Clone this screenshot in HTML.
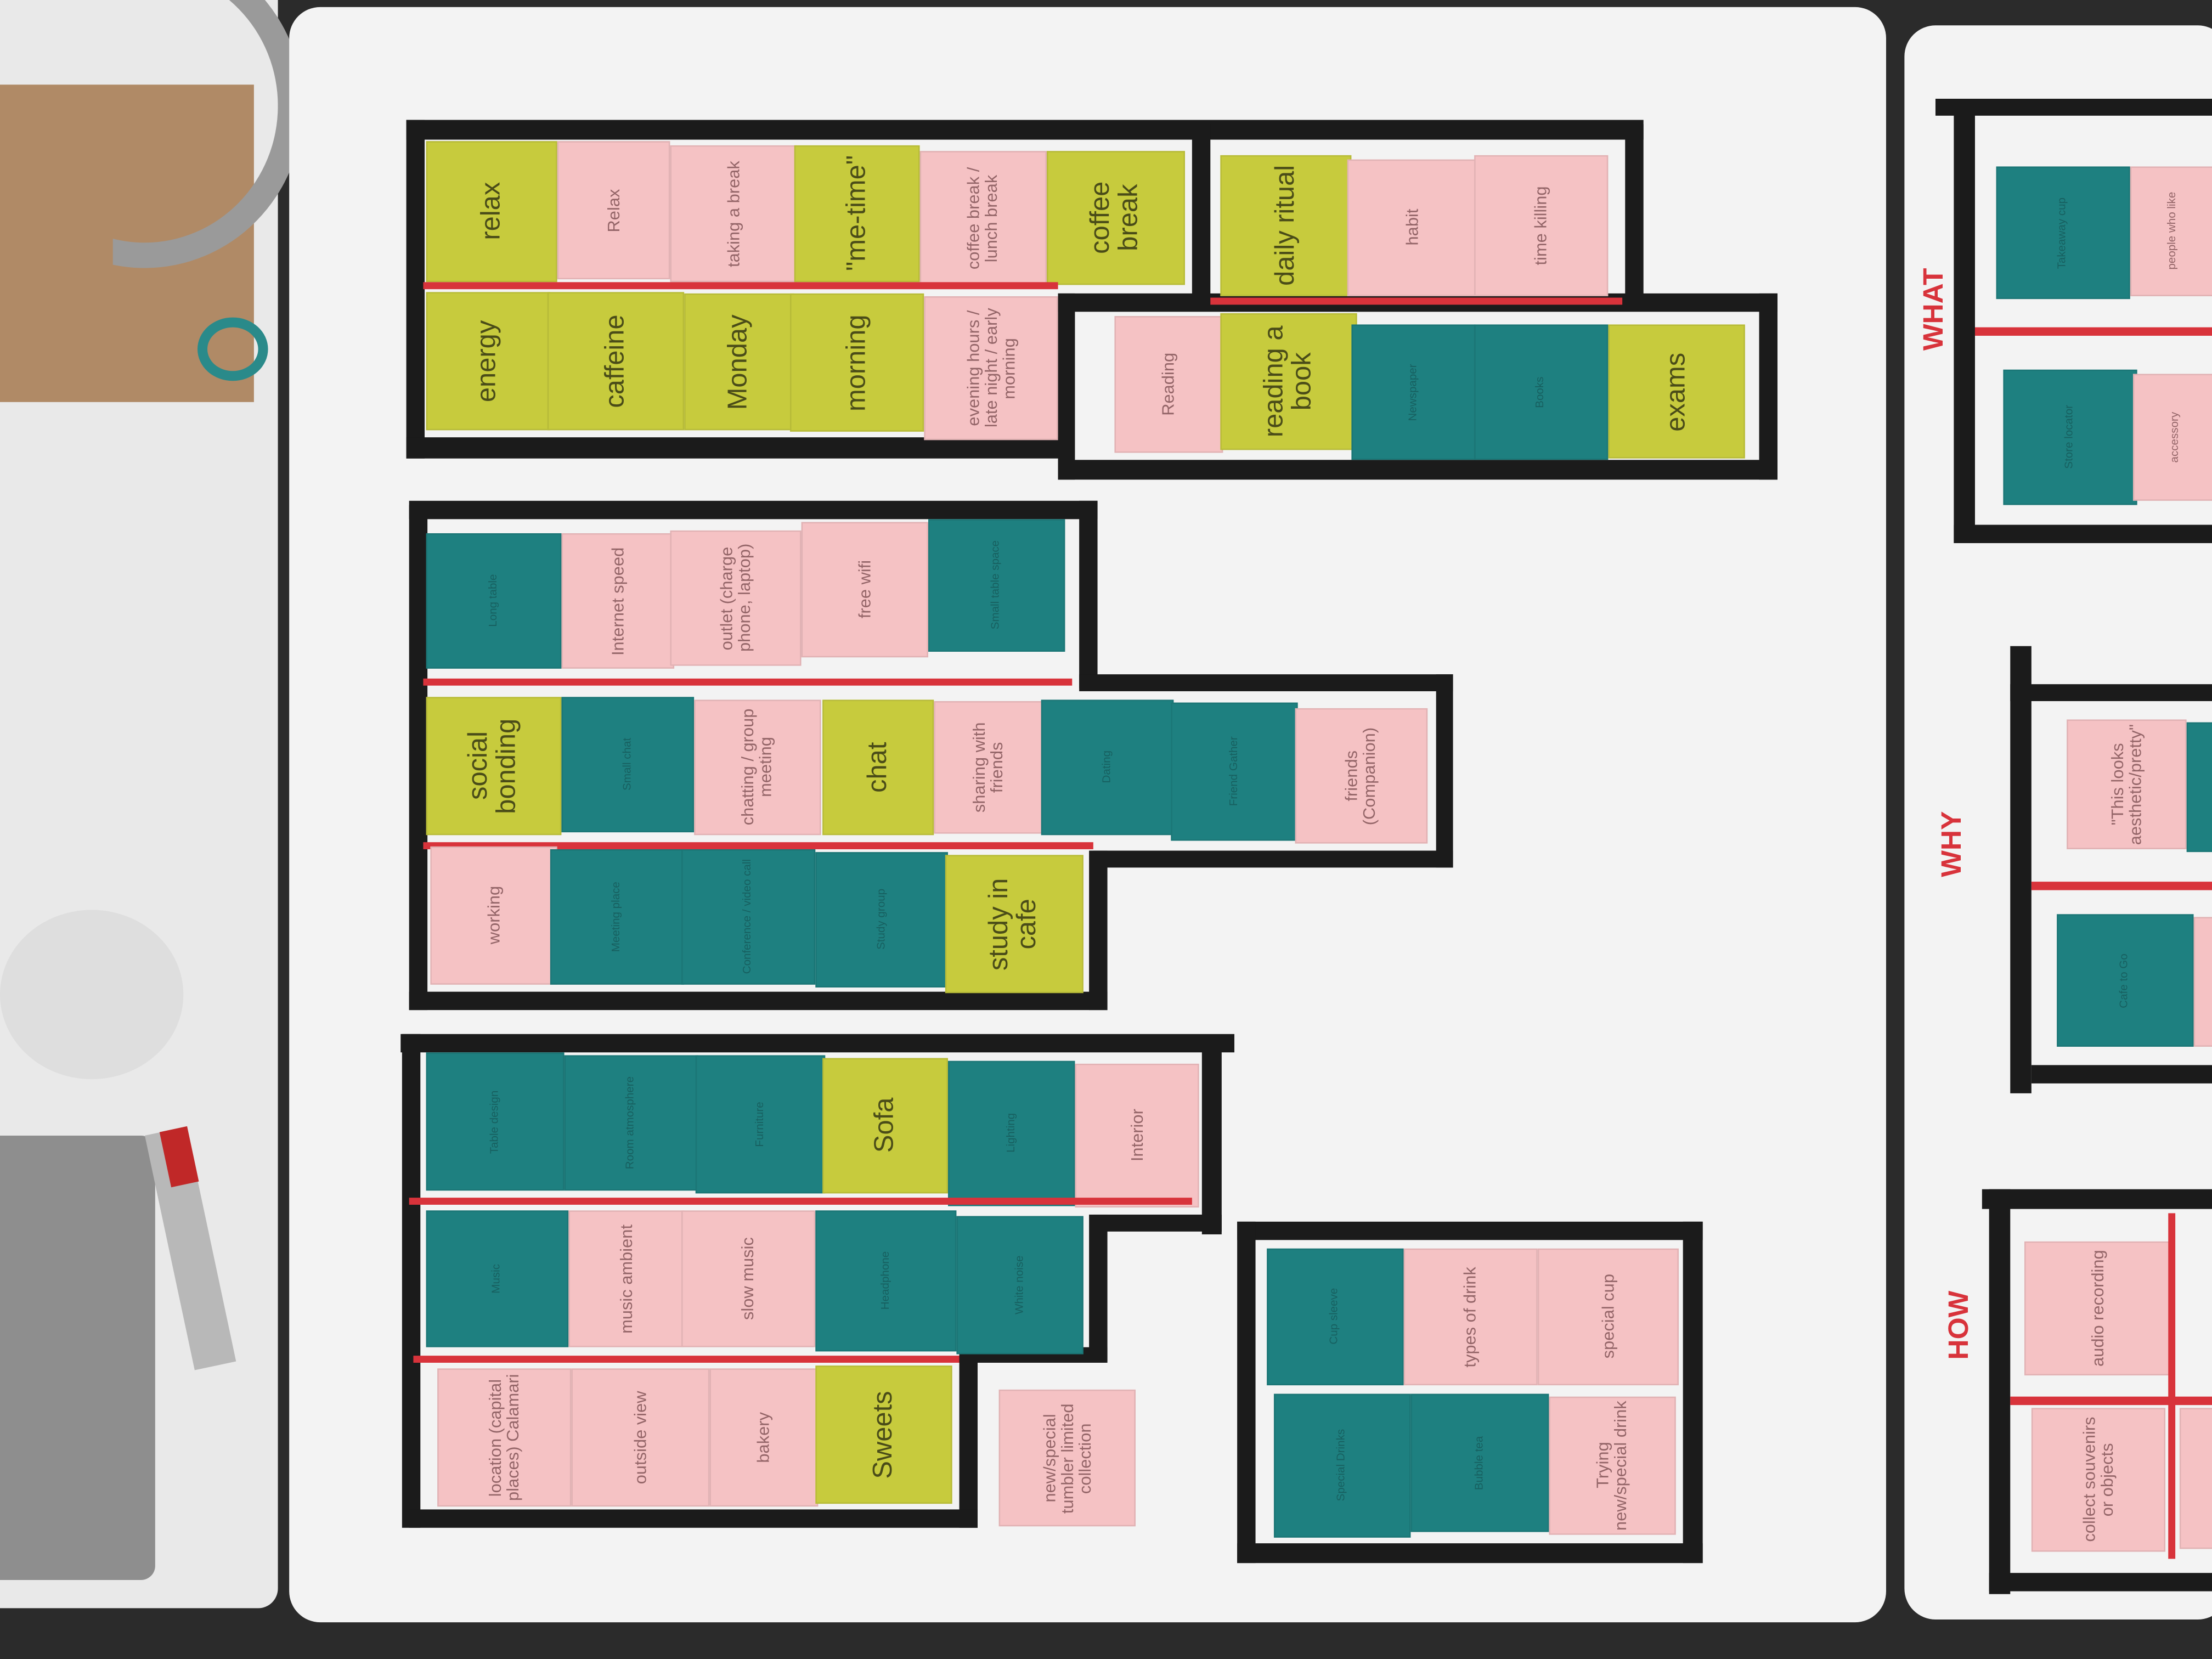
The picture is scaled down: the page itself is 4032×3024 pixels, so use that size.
<!DOCTYPE html>
<html><head><meta charset="utf-8"><style>
html,body{margin:0;padding:0;width:4032px;height:3024px;overflow:hidden;background:#2a2a2a}
#s{position:absolute;left:0;top:0;width:1568px;height:1176px;transform:scale(2.5714);transform-origin:0 0;background:#2b2b2b;font-family:"Liberation Sans",sans-serif}
#s div{position:absolute;box-sizing:border-box}
.b{background:#1b1b1b}
.r{background:#d8333b}
.n{display:flex;align-items:center;justify-content:center;overflow:hidden;box-shadow:inset 0 0 0 1px rgba(0,0,0,0.08)}
.n span{writing-mode:vertical-rl;transform:rotate(180deg);text-align:center;line-height:1.05;color:#444}
.y{background:#c7cb3d}.p{background:#f5c2c4}.t{background:#1e8080}
.y span{font-size:19px;color:#4a4c18}.p span{font-size:12px;color:#946568}.t span{font-size:8px;color:#176060}
.lbl{color:#d8333b;font-weight:bold;font-size:20px;writing-mode:vertical-rl;transform:rotate(180deg)}
</style></head><body><div id="s">
<div style="left:0;top:0;width:197px;height:1140px;background:#e9e9e9;border-radius:0 0 14px 0"></div>
<div style="left:0;top:60px;width:180px;height:225px;background:#b08a66"></div>
<div style="left:140px;top:225px;width:50px;height:45px;border:7px solid #2a8a8a;border-radius:50%"></div>
<div style="left:-10px;top:-40px;width:225px;height:230px;border:18px solid #9a9a9a;border-radius:50%;clip-path:inset(0 0 0 40%)"></div>
<div style="left:0;top:645px;width:130px;height:120px;background:#dedede;border-radius:50%"></div>
<div style="left:0;top:805px;width:110px;height:315px;background:#8e8e8e;border-radius:0 10px 10px 0"></div>
<div style="left:120px;top:800px;width:30px;height:170px;background:#b8b8b8;transform:rotate(-12deg)"></div>
<div style="left:117px;top:800px;width:20px;height:40px;background:#c02828;transform:rotate(-12deg)"></div>
<div style="left:205px;top:5px;width:1132px;height:1145px;background:#f3f3f3;border-radius:22px"></div>
<div style="left:1350px;top:18px;width:230px;height:1130px;background:#f3f3f3;border-radius:22px"></div>

<!-- frame 1 -->
<div class="b" style="left:288px;top:85px;width:877px;height:14px"></div>
<div class="b" style="left:288px;top:85px;width:13px;height:240px"></div>
<div class="b" style="left:288px;top:310px;width:467px;height:15px"></div>
<div class="b" style="left:845px;top:88px;width:13px;height:127px"></div>
<div class="b" style="left:1152px;top:88px;width:13px;height:127px"></div>
<div class="b" style="left:750px;top:208px;width:510px;height:13px"></div>
<div class="b" style="left:1247px;top:208px;width:13px;height:132px"></div>
<div class="b" style="left:750px;top:326px;width:510px;height:14px"></div>
<div class="b" style="left:750px;top:208px;width:12px;height:132px"></div>
<div class="n y" style="left:302px;top:100px;width:93px;height:100px"><span>relax</span></div>
<div class="n p" style="left:395px;top:100px;width:80px;height:98px"><span>Relax</span></div>
<div class="n p" style="left:475px;top:103px;width:90px;height:97px"><span>taking a break</span></div>
<div class="n y" style="left:563px;top:103px;width:89px;height:97px"><span>"me-time"</span></div>
<div class="n p" style="left:652px;top:107px;width:90px;height:95px"><span>coffee break / lunch break</span></div>
<div class="n y" style="left:742px;top:107px;width:98px;height:95px"><span>coffee break</span></div>
<div class="r" style="left:300px;top:200px;width:450px;height:5px"></div>
<div class="n y" style="left:302px;top:207px;width:88px;height:98px"><span>energy</span></div>
<div class="n y" style="left:388px;top:207px;width:97px;height:98px"><span>caffeine</span></div>
<div class="n y" style="left:485px;top:208px;width:78px;height:97px"><span>Monday</span></div>
<div class="n y" style="left:560px;top:208px;width:95px;height:98px"><span>morning</span></div>
<div class="n p" style="left:655px;top:210px;width:95px;height:102px"><span>evening hours / late night / early morning</span></div>
<div class="n y" style="left:865px;top:110px;width:93px;height:100px"><span>daily ritual</span></div>
<div class="n p" style="left:955px;top:113px;width:92px;height:97px"><span>habit</span></div>
<div class="n p" style="left:1045px;top:110px;width:95px;height:100px"><span>time killing</span></div>
<div class="r" style="left:858px;top:211px;width:292px;height:5px"></div>
<div class="n p" style="left:790px;top:224px;width:77px;height:97px"><span>Reading</span></div>
<div class="n y" style="left:865px;top:222px;width:97px;height:97px"><span>reading a book</span></div>
<div class="n t" style="left:958px;top:230px;width:88px;height:96px"><span>Newspaper</span></div>
<div class="n t" style="left:1045px;top:230px;width:95px;height:96px"><span>Books</span></div>
<div class="n y" style="left:1140px;top:230px;width:97px;height:95px"><span>exams</span></div>

<!-- frame 2 -->
<div class="b" style="left:290px;top:355px;width:488px;height:13px"></div>
<div class="b" style="left:290px;top:358px;width:13px;height:358px"></div>
<div class="b" style="left:765px;top:355px;width:13px;height:133px"></div>
<div class="b" style="left:765px;top:478px;width:265px;height:12px"></div>
<div class="b" style="left:1018px;top:478px;width:12px;height:137px"></div>
<div class="b" style="left:775px;top:603px;width:255px;height:12px"></div>
<div class="b" style="left:772px;top:603px;width:13px;height:113px"></div>
<div class="b" style="left:290px;top:703px;width:495px;height:13px"></div>
<div class="n t" style="left:302px;top:378px;width:96px;height:96px"><span>Long table</span></div>
<div class="n p" style="left:398px;top:378px;width:80px;height:96px"><span>Internet speed</span></div>
<div class="n p" style="left:475px;top:376px;width:93px;height:96px"><span>outlet (charge phone, laptop)</span></div>
<div class="n p" style="left:568px;top:370px;width:90px;height:96px"><span>free wifi</span></div>
<div class="n t" style="left:658px;top:368px;width:97px;height:94px"><span>Small table space</span></div>
<div class="r" style="left:300px;top:481px;width:460px;height:5px"></div>
<div class="n y" style="left:302px;top:494px;width:96px;height:98px"><span>social bonding</span></div>
<div class="n t" style="left:398px;top:494px;width:94px;height:96px"><span>Small chat</span></div>
<div class="n p" style="left:492px;top:496px;width:90px;height:96px"><span>chatting / group meeting</span></div>
<div class="n y" style="left:583px;top:496px;width:79px;height:96px"><span>chat</span></div>
<div class="n p" style="left:662px;top:497px;width:78px;height:94px"><span>sharing with friends</span></div>
<div class="n t" style="left:738px;top:496px;width:94px;height:96px"><span>Dating</span></div>
<div class="n t" style="left:830px;top:498px;width:90px;height:98px"><span>Friend Gather</span></div>
<div class="n p" style="left:918px;top:502px;width:94px;height:96px"><span>friends (Companion)</span></div>
<div class="r" style="left:300px;top:597px;width:475px;height:5px"></div>
<div class="n p" style="left:305px;top:600px;width:90px;height:98px"><span>working</span></div>
<div class="n t" style="left:390px;top:602px;width:95px;height:96px"><span>Meeting place</span></div>
<div class="n t" style="left:483px;top:602px;width:95px;height:96px"><span>Conference / video call</span></div>
<div class="n t" style="left:578px;top:604px;width:94px;height:96px"><span>Study group</span></div>
<div class="n y" style="left:670px;top:606px;width:98px;height:98px"><span>study in cafe</span></div>

<!-- frame 3 -->
<div class="b" style="left:284px;top:733px;width:591px;height:13px"></div>
<div class="b" style="left:285px;top:733px;width:13px;height:350px"></div>
<div class="b" style="left:852px;top:735px;width:14px;height:140px"></div>
<div class="b" style="left:775px;top:861px;width:91px;height:12px"></div>
<div class="b" style="left:772px;top:861px;width:13px;height:104px"></div>
<div class="b" style="left:680px;top:955px;width:105px;height:11px"></div>
<div class="b" style="left:680px;top:958px;width:13px;height:125px"></div>
<div class="b" style="left:290px;top:1070px;width:403px;height:13px"></div>
<div class="n t" style="left:302px;top:746px;width:98px;height:98px"><span>Table design</span></div>
<div class="n t" style="left:400px;top:748px;width:95px;height:96px"><span>Room atmosphere</span></div>
<div class="n t" style="left:493px;top:748px;width:92px;height:98px"><span>Furniture</span></div>
<div class="n y" style="left:583px;top:750px;width:89px;height:96px"><span>Sofa</span></div>
<div class="n t" style="left:672px;top:752px;width:90px;height:103px"><span>Lighting</span></div>
<div class="n p" style="left:762px;top:754px;width:88px;height:102px"><span>Interior</span></div>
<div class="r" style="left:290px;top:849px;width:555px;height:5px"></div>
<div class="n t" style="left:302px;top:858px;width:101px;height:97px"><span>Music</span></div>
<div class="n p" style="left:403px;top:858px;width:82px;height:97px"><span>music ambient</span></div>
<div class="n p" style="left:483px;top:858px;width:95px;height:97px"><span>slow music</span></div>
<div class="n t" style="left:578px;top:858px;width:100px;height:100px"><span>Headphone</span></div>
<div class="n t" style="left:678px;top:862px;width:90px;height:98px"><span>White noise</span></div>
<div class="r" style="left:293px;top:961px;width:387px;height:5px"></div>
<div class="n p" style="left:310px;top:970px;width:95px;height:98px"><span>location (capital places) Calamari</span></div>
<div class="n p" style="left:405px;top:970px;width:98px;height:98px"><span>outside view</span></div>
<div class="n p" style="left:503px;top:970px;width:77px;height:98px"><span>bakery</span></div>
<div class="n y" style="left:578px;top:968px;width:97px;height:98px"><span>Sweets</span></div>
<div class="n p" style="left:708px;top:985px;width:97px;height:97px"><span>new/special tumbler limited collection</span></div>

<!-- frame 4 -->
<div class="b" style="left:877px;top:866px;width:330px;height:13px"></div>
<div class="b" style="left:877px;top:866px;width:13px;height:242px"></div>
<div class="b" style="left:1193px;top:866px;width:14px;height:242px"></div>
<div class="b" style="left:877px;top:1094px;width:330px;height:14px"></div>
<div class="n t" style="left:898px;top:885px;width:97px;height:97px"><span>Cup sleeve</span></div>
<div class="n p" style="left:995px;top:885px;width:95px;height:97px"><span>types of drink</span></div>
<div class="n p" style="left:1090px;top:885px;width:100px;height:97px"><span>special cup</span></div>
<div class="n t" style="left:903px;top:988px;width:97px;height:102px"><span>Special Drinks</span></div>
<div class="n t" style="left:1000px;top:988px;width:98px;height:98px"><span>Bubble tea</span></div>
<div class="n p" style="left:1098px;top:990px;width:90px;height:98px"><span>Trying new/special drink</span></div>

<!-- right board -->
<div class="lbl" style="left:1360px;top:190px">WHAT</div>
<div class="b" style="left:1372px;top:70px;width:200px;height:12px"></div>
<div class="b" style="left:1385px;top:70px;width:15px;height:315px"></div>
<div class="b" style="left:1385px;top:372px;width:190px;height:13px"></div>
<div class="n t" style="left:1415px;top:118px;width:95px;height:94px"><span>Takeaway cup</span></div>
<div class="n p" style="left:1510px;top:118px;width:60px;height:92px"><span style="font-size:8px">people who like</span></div>
<div class="r" style="left:1400px;top:232px;width:170px;height:6px"></div>
<div class="n t" style="left:1420px;top:262px;width:95px;height:96px"><span>Store locator</span></div>
<div class="n p" style="left:1512px;top:265px;width:60px;height:90px"><span style="font-size:8px">accessory</span></div>
<div class="lbl" style="left:1373px;top:575px">WHY</div>
<div class="b" style="left:1425px;top:458px;width:15px;height:317px"></div>
<div class="b" style="left:1425px;top:485px;width:150px;height:12px"></div>
<div class="b" style="left:1440px;top:755px;width:135px;height:13px"></div>
<div class="n p" style="left:1465px;top:510px;width:85px;height:92px"><span>"This looks aesthetic/pretty"</span></div>
<div class="n t" style="left:1550px;top:512px;width:22px;height:92px"></div>
<div class="r" style="left:1440px;top:625px;width:135px;height:6px"></div>
<div class="n t" style="left:1458px;top:648px;width:97px;height:94px"><span>Cafe to Go</span></div>
<div class="n p" style="left:1555px;top:650px;width:17px;height:92px"></div>
<div class="lbl" style="left:1378px;top:915px">HOW</div>
<div class="b" style="left:1405px;top:843px;width:170px;height:14px"></div>
<div class="b" style="left:1410px;top:843px;width:15px;height:287px"></div>
<div class="b" style="left:1410px;top:1115px;width:165px;height:13px"></div>
<div class="n p" style="left:1435px;top:880px;width:105px;height:95px"><span>audio recording</span></div>
<div class="r" style="left:1425px;top:990px;width:150px;height:6px"></div>
<div class="r" style="left:1537px;top:860px;width:5px;height:245px"></div>
<div class="n p" style="left:1440px;top:998px;width:95px;height:102px"><span>collect souvenirs or objects</span></div>
<div class="n p" style="left:1545px;top:998px;width:27px;height:100px"></div>
</div></body></html>
